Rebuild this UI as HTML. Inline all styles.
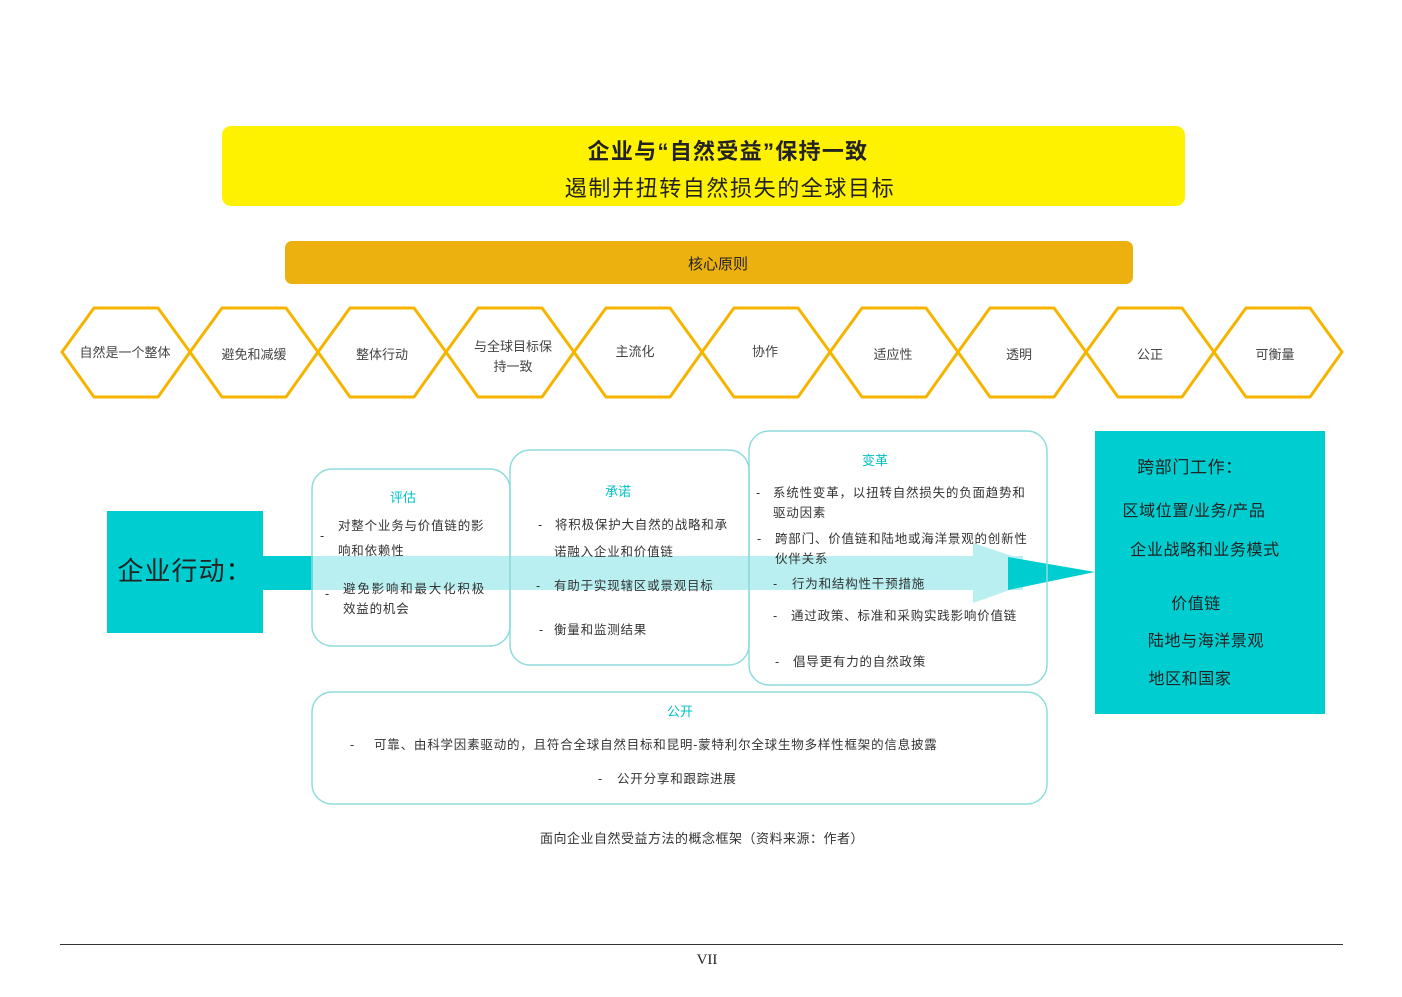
<!DOCTYPE html>
<html><head><meta charset="utf-8"><style>
html,body{margin:0;padding:0;background:#fff;}
svg text{font-family:"Liberation Sans","Noto Sans CJK SC",sans-serif;}
</style></head><body>
<svg width="1402" height="992" viewBox="0 0 1402 992" xmlns="http://www.w3.org/2000/svg">
<rect x="222" y="126" width="963" height="80" rx="9" fill="#fff200"/>
<text x="728" y="159" font-size="22" font-weight="bold" text-anchor="middle" fill="#222" letter-spacing="1.3">企业与“自然受益”保持一致</text>
<text x="730" y="196" font-size="22" text-anchor="middle" fill="#222" letter-spacing="1.6">遏制并扭转自然损失的全球目标</text>
<rect x="285" y="241" width="848" height="43" rx="7" fill="#ecb10f"/>
<text x="718" y="269" font-size="15" text-anchor="middle" fill="#222">核心原则</text>
<g fill="none" stroke="#f4b400" stroke-width="3">
<polygon points="62,352 94,308 158,308 190,352 158,397 94,397"/>
<polygon points="190,352 222,308 286,308 318,352 286,397 222,397"/>
<polygon points="318,352 350,308 414,308 446,352 414,397 350,397"/>
<polygon points="446,352 478,308 542,308 574,352 542,397 478,397"/>
<polygon points="574,352 606,308 670,308 702,352 670,397 606,397"/>
<polygon points="702,352 734,308 798,308 830,352 798,397 734,397"/>
<polygon points="830,352 862,308 926,308 958,352 926,397 862,397"/>
<polygon points="958,352 990,308 1054,308 1086,352 1054,397 990,397"/>
<polygon points="1086,352 1118,308 1182,308 1214,352 1182,397 1118,397"/>
<polygon points="1214,352 1246,308 1310,308 1342,352 1310,397 1246,397"/>
</g>
<g font-size="13" fill="#444" text-anchor="middle">
<text x="125" y="357">自然是一个整体</text>
<text x="254" y="359">避免和减缓</text>
<text x="382" y="359">整体行动</text>
<text x="513" y="351">与全球目标保</text>
<text x="513" y="371">持一致</text>
<text x="635" y="356">主流化</text>
<text x="765" y="356">协作</text>
<text x="893" y="359">适应性</text>
<text x="1019" y="359">透明</text>
<text x="1150" y="359">公正</text>
<text x="1275" y="359">可衡量</text>
</g>
<rect x="107" y="511" width="156" height="122" fill="#00cdd0"/>
<text x="185" y="580" font-size="26" text-anchor="middle" fill="#222" letter-spacing="1">企业行动：</text>
<rect x="1095" y="431" width="230" height="283" fill="#00cdd0"/>
<g font-size="16" fill="#222" text-anchor="middle" letter-spacing="0.6">
<text x="1190" y="473" font-size="17">跨部门工作：</text>
<text x="1194" y="516">区域位置/业务/产品</text>
<text x="1205" y="555">企业战略和业务模式</text>
<text x="1196" y="609">价值链</text>
<text x="1206" y="646">陆地与海洋景观</text>
<text x="1190" y="684">地区和国家</text>
</g>
<rect x="263" y="556" width="50" height="34" fill="#00cdd0"/>
<rect x="313" y="556" width="710" height="34" fill="#b9eff0"/>
<polygon points="973,543 1060,572 973,603" fill="#b9eff0"/>
<polygon points="1008,557 1095,572 1008,590" fill="#00cdd0"/>
<g fill="none" stroke="#8fdcdc" stroke-width="1.5">
<rect x="312" y="469" width="198" height="177" rx="20"/>
<rect x="510" y="450" width="239" height="215" rx="20"/>
<rect x="749" y="431" width="298" height="254" rx="20"/>
<rect x="312" y="692" width="735" height="112" rx="20"/>
</g>
<g font-size="13" fill="#00c0c8" text-anchor="middle">
<text x="403" y="502">评估</text>
<text x="618" y="496">承诺</text>
<text x="875" y="465">变革</text>
<text x="680" y="716">公开</text>
</g>
<g font-size="12.5" fill="#333" letter-spacing="0.8">
<text x="320" y="540">-</text><text x="338" y="530">对整个业务与价值链的影</text><text x="338" y="555">响和依赖性</text>
<text x="325" y="598">-</text><text x="343" y="593" letter-spacing="1.8">避免影响和最大化积极</text><text x="343" y="613">效益的机会</text>
<text x="538" y="529">-</text><text x="555" y="529">将积极保护大自然的战略和承</text><text x="554" y="556">诺融入企业和价值链</text>
<text x="536" y="590">-</text><text x="554" y="590">有助于实现辖区或景观目标</text>
<text x="539" y="634">-</text><text x="554" y="634">衡量和监测结果</text>
<text x="756" y="497">-</text><text x="773" y="497">系统性变革，以扭转自然损失的负面趋势和</text><text x="773" y="517">驱动因素</text>
<text x="757" y="543">-</text><text x="775" y="543">跨部门、价值链和陆地或海洋景观的创新性</text><text x="775" y="563">伙伴关系</text>
<text x="773" y="588">-</text><text x="792" y="588">行为和结构性干预措施</text>
<text x="773" y="620">-</text><text x="791" y="620">通过政策、标准和采购实践影响价值链</text>
<text x="775" y="666">-</text><text x="793" y="666">倡导更有力的自然政策</text>
<text x="350" y="749">-</text><text x="374" y="749">可靠、由科学因素驱动的，且符合全球自然目标和昆明-蒙特利尔全球生物多样性框架的信息披露</text>
<text x="598" y="783">-</text><text x="617" y="783">公开分享和跟踪进展</text>
</g>
<text x="702" y="843" font-size="13" fill="#333" text-anchor="middle" letter-spacing="0.5">面向企业自然受益方法的概念框架（资料来源：作者）</text>
<line x1="60" y1="944.5" x2="1343" y2="944.5" stroke="#333" stroke-width="1"/>
<text x="707" y="964" font-size="15" fill="#222" text-anchor="middle" style="font-family:'Liberation Serif',serif">VII</text>
</svg>
</body></html>
